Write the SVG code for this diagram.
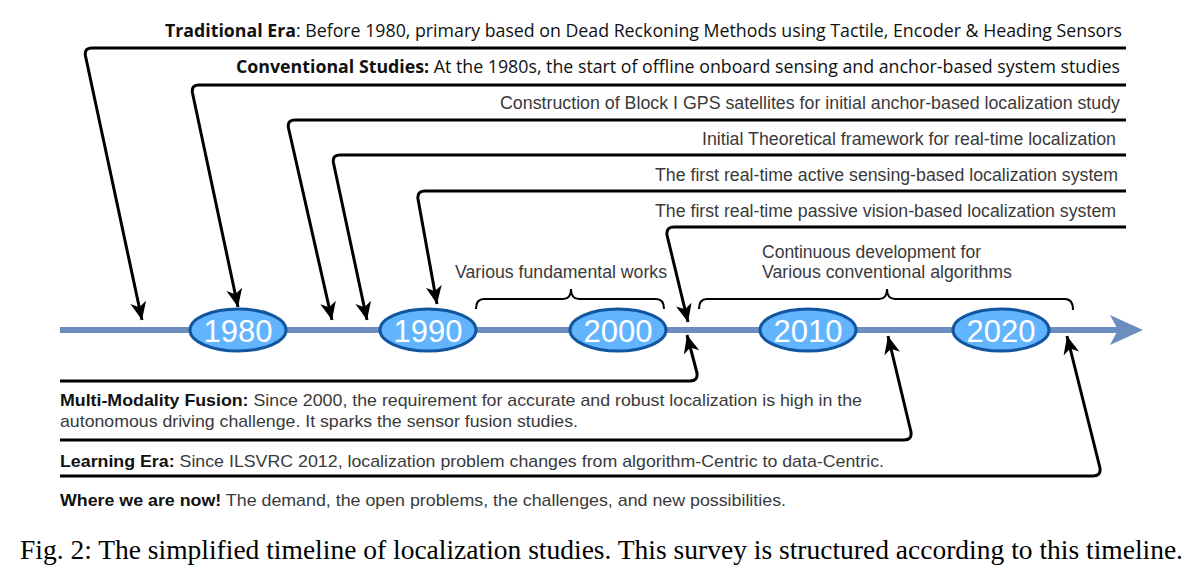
<svg xmlns="http://www.w3.org/2000/svg" width="1193" height="576" viewBox="0 0 1193 576">
<style>
.cal{font-family:"Open Sans","Liberation Sans",sans-serif;font-size:18.5px;fill:#111}
.ar{font-family:"Liberation Sans",Arial,sans-serif;font-size:17.5px;fill:#3a3a3a}
.arb{font-family:"Liberation Sans",Arial,sans-serif;font-size:17px;fill:#3a3a3a}
.b{font-weight:bold;fill:#111}
.yr{font-family:"Liberation Sans",Arial,sans-serif;font-size:31px;fill:#fff;text-anchor:middle}
.ell{fill:#62b4ff;stroke:#11569f;stroke-width:3}
.conn{fill:none;stroke:#000;stroke-width:3;stroke-linejoin:round}
.brace{fill:none;stroke:#000;stroke-width:2}
.cap{font-family:"Liberation Serif","Times New Roman",Times,serif;font-size:27.5px;fill:#000}
</style>
<defs>
<marker id="ah" markerUnits="userSpaceOnUse" markerWidth="20" markerHeight="20" viewBox="0 0 20 20" refX="18" refY="10" orient="auto">
<path d="M0,2 L18,10 L0,18 L5,10 z" fill="#000"/>
</marker>
</defs>
<rect width="1193" height="576" fill="#fff"/>

<g id="timeline">
<line x1="60" y1="330" x2="1118" y2="330" stroke="#6c8ebf" stroke-width="6"/>
<path d="M1110,315 L1143,330 L1110,345 L1118,330 z" fill="#6c8ebf"/>
</g>

<g id="connectors">
<path class="conn" marker-end="url(#ah)" d="M1126,48 H92 Q84,48 85.5,56 L142,320"/>
<path class="conn" marker-end="url(#ah)" d="M1126,85 H199 Q191,85 192.5,93 L238,307"/>
<path class="conn" marker-end="url(#ah)" d="M1126,120 H295 Q287,120 288.5,128 L332,320"/>
<path class="conn" marker-end="url(#ah)" d="M1126,155 H340 Q332,155 333.5,163 L367,320"/>
<path class="conn" marker-end="url(#ah)" d="M1126,191 H425 Q417,191 418,199 L437,304"/>
<path class="conn" marker-end="url(#ah)" d="M1126,227 H674 Q666,227 667,235 L688,322"/>
<path class="conn" marker-end="url(#ah)" d="M60,381 H690 Q698,381 697,373 L687,335"/>
<path class="conn" marker-end="url(#ah)" d="M60,440 H904 Q912,440 911,432 L888,336"/>
<path class="conn" marker-end="url(#ah)" d="M60,476 H1093 Q1101,476 1100,468 L1067,336"/>
</g>

<g id="braces">
<path class="brace" d="M476,309 Q476,299 484,299 H563 Q571,299 571,289 Q571,299 579,299 H656 Q664,299 664,309"/>
<path class="brace" d="M699,309 Q699,299 707,299 H879 Q887,299 887,289 Q887,299 895,299 H1065 Q1073,299 1073,310"/>
</g>

<g id="y1980"><ellipse class="ell" cx="238" cy="330" rx="48" ry="21"/><text class="yr" x="238" y="342">1980</text></g>
<g id="y1990"><ellipse class="ell" cx="428" cy="330" rx="48" ry="21"/><text class="yr" x="428" y="342">1990</text></g>
<g id="y2000"><ellipse class="ell" cx="618" cy="330" rx="48" ry="21"/><text class="yr" x="618" y="342">2000</text></g>
<g id="y2010"><ellipse class="ell" cx="808" cy="330" rx="48" ry="21"/><text class="yr" x="808" y="342">2010</text></g>
<g id="y2020"><ellipse class="ell" cx="1001" cy="330" rx="48" ry="21"/><text class="yr" x="1001" y="342">2020</text></g>

<g id="labels-top">
<text class="cal" x="165" y="37" textLength="957" lengthAdjust="spacingAndGlyphs"><tspan class="b">Traditional Era</tspan>: Before 1980, primary based on Dead Reckoning Methods using Tactile, Encoder &amp; Heading Sensors</text>
<text class="cal" x="236" y="73" textLength="884" lengthAdjust="spacingAndGlyphs"><tspan class="b">Conventional Studies:</tspan> At the 1980s, the start of offline onboard sensing and anchor-based system studies</text>
<text class="ar" x="500" y="109" textLength="620" lengthAdjust="spacingAndGlyphs">Construction of Block I GPS satellites for initial anchor-based localization study</text>
<text class="ar" x="702" y="145" textLength="414" lengthAdjust="spacingAndGlyphs">Initial Theoretical framework for real-time localization</text>
<text class="ar" x="655" y="181" textLength="463" lengthAdjust="spacingAndGlyphs">The first real-time active sensing-based localization system</text>
<text class="ar" x="655" y="217" textLength="461" lengthAdjust="spacingAndGlyphs">The first real-time passive vision-based localization system</text>
</g>

<g id="labels-mid">
<text class="ar" x="455" y="278" textLength="212" lengthAdjust="spacingAndGlyphs">Various fundamental works</text>
<text class="ar" x="762" y="258" textLength="219" lengthAdjust="spacingAndGlyphs">Continuous development for</text>
<text class="ar" x="762" y="278" textLength="250" lengthAdjust="spacingAndGlyphs">Various conventional algorithms</text>
</g>

<g id="labels-bottom">
<text class="arb" x="60" y="406" textLength="802" lengthAdjust="spacingAndGlyphs"><tspan class="b">Multi-Modality Fusion:</tspan> Since 2000, the requirement for accurate and robust localization is high in the</text>
<text class="arb" x="60" y="427" textLength="518" lengthAdjust="spacingAndGlyphs">autonomous driving challenge. It sparks the sensor fusion studies.</text>
<text class="arb" x="60" y="467" textLength="824" lengthAdjust="spacingAndGlyphs"><tspan class="b">Learning Era:</tspan> Since ILSVRC 2012, localization problem changes from algorithm-Centric to data-Centric.</text>
<text class="arb" x="60" y="506" textLength="726" lengthAdjust="spacingAndGlyphs"><tspan class="b">Where we are now!</tspan> The demand, the open problems, the challenges, and new possibilities.</text>
</g>

<g id="caption">
<text class="cap" x="20" y="559" textLength="1163" lengthAdjust="spacingAndGlyphs">Fig. 2: The simplified timeline of localization studies. This survey is structured according to this timeline.</text>
</g>
</svg>
